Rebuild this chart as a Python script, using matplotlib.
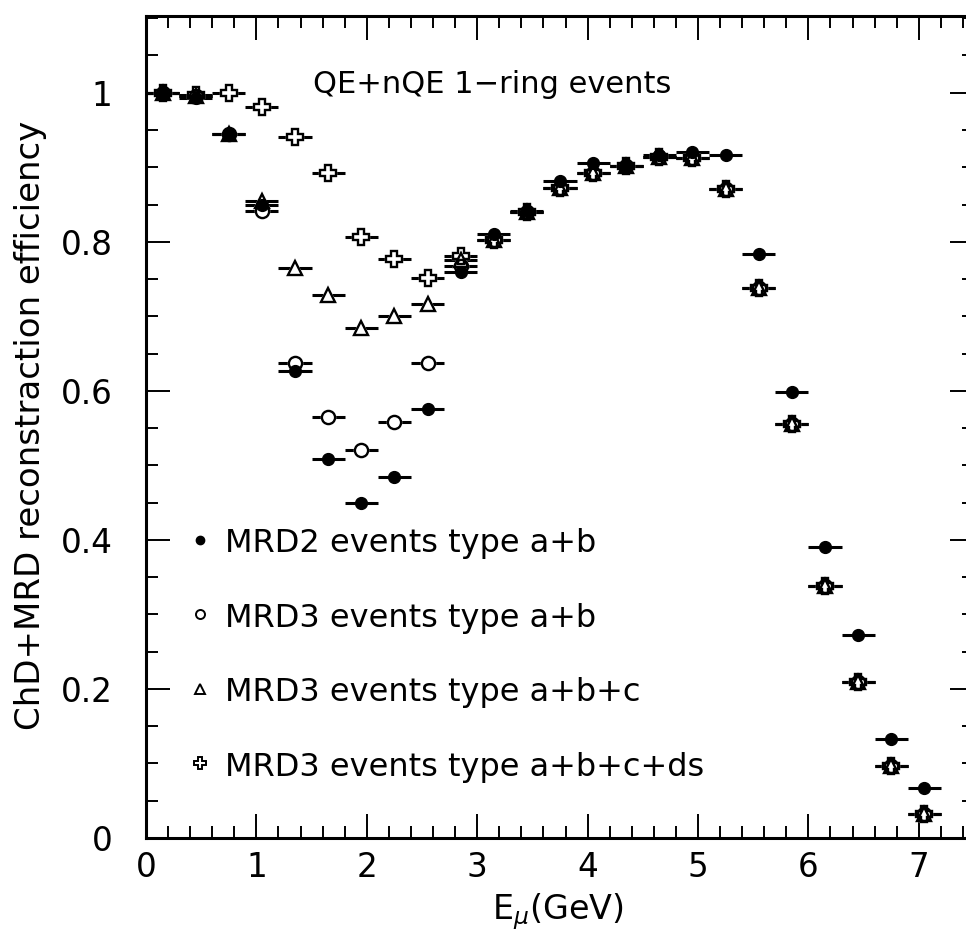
import matplotlib
matplotlib.use("Agg")
import matplotlib.pyplot as plt
from matplotlib.ticker import MultipleLocator, FixedLocator, FixedFormatter

plt.rcParams['font.family'] = ['DejaVu Sans']
plt.rcParams['mathtext.fontset'] = 'dejavusans'

# Muon energy bin centres (GeV), bins are 0.3 GeV wide
e_mu = [0.15, 0.45, 0.75, 1.05, 1.35, 1.65, 1.95, 2.25, 2.55, 2.85, 3.15, 3.45,
        3.75, 4.05, 4.35, 4.65, 4.95, 5.25, 5.55, 5.85, 6.15, 6.45, 6.75, 7.05]
half_bin = 0.15

eff_mrd2_ab = [1.000, 0.993, 0.945, 0.849, 0.626, 0.509, 0.449, 0.484, 0.575, 0.759,
               0.810, 0.842, 0.882, 0.906, 0.902, 0.916, 0.920, 0.916, 0.783, 0.599,
               0.390, 0.273, 0.133, 0.067]
eff_mrd3_ab = [1.000, 0.995, 0.945, 0.842, 0.637, 0.565, 0.520, 0.558, 0.638, 0.768,
               0.803, 0.840, 0.872, 0.893, 0.902, 0.914, 0.913, 0.871, 0.738, 0.555,
               0.338, 0.209, 0.097, 0.032]
eff_mrd3_abc = [1.000, 0.995, 0.945, 0.855, 0.765, 0.729, 0.685, 0.701, 0.716, 0.775,
                0.803, 0.840, 0.872, 0.893, 0.902, 0.914, 0.913, 0.871, 0.738, 0.555,
                0.338, 0.209, 0.097, 0.032]
eff_mrd3_abcds = [1.000, 0.997, 1.000, 0.981, 0.940, 0.893, 0.807, 0.777, 0.752, 0.781,
                  0.803, 0.840, 0.872, 0.893, 0.902, 0.914, 0.913, 0.871, 0.738, 0.555,
                  0.338, 0.209, 0.097, 0.032]

legend_labels = ["MRD2 events type a+b", "MRD3 events type a+b",
                 "MRD3 events type a+b+c", "MRD3 events type a+b+c+ds"]
legend_rows = [0.4, 0.3, 0.2, 0.1]

x_ticks = [0, 1, 2, 3, 4, 5, 6, 7]
y_ticks = [0, 0.2, 0.4, 0.6, 0.8, 1.0]
y_tick_labels = ["0", "0.2", "0.4", "0.6", "0.8", "1"]

W, H = 966, 938
fig = plt.figure(figsize=(W / 100, H / 100), dpi=100)
ax = fig.add_axes([146 / W, (H - 838) / H, 828 / W, 822 / H])

open_series = [
    (eff_mrd3_abcds, dict(marker='P', ms=11, mew=1.7)),
    (eff_mrd3_abc, dict(marker='^', ms=10, mew=1.7)),
    (eff_mrd3_ab, dict(marker='o', ms=9.5, mew=1.7)),
]

# horizontal bin-width bars underneath everything
for vals in [eff_mrd3_abcds, eff_mrd3_abc, eff_mrd3_ab, eff_mrd2_ab]:
    ax.errorbar(e_mu, vals, xerr=half_bin, fmt='none', ecolor='black',
                elinewidth=2.2, capsize=0, zorder=2)

# open markers: white interiors first, then all outlines on top
for vals, style in open_series:
    ax.plot(e_mu, vals, linestyle='none', mfc='white', mec='white', zorder=3, **style)
for vals, style in open_series:
    ax.plot(e_mu, vals, linestyle='none', mfc='none', mec='black', zorder=4, **style)

ax.plot(e_mu, eff_mrd2_ab, linestyle='none', marker='o', ms=8.5, mfc='black',
        mec='black', mew=1.0, zorder=5)

# Legend drawn inside the frame
legend_styles = [
    dict(marker='o', ms=6, mfc='black', mec='black', mew=1.0),
    dict(marker='o', ms=6.5, mfc='white', mec='black', mew=1.4),
    dict(marker='^', ms=7, mfc='white', mec='black', mew=1.4),
    dict(marker='P', ms=8, mfc='white', mec='black', mew=1.4),
]
for row, label, style in zip(legend_rows, legend_labels, legend_styles):
    ax.plot([0.49], [row], linestyle='none', color='black', zorder=3, **style)
    ax.text(0.715, row - 0.0165, label, fontsize=23, va='baseline', ha='left')

ax.text(1.51, 1.0, "QE+nQE 1\u2212ring events", fontsize=22, va='baseline', ha='left')

ax.set_xlim(0, 7.5)
ax.set_ylim(0, 1.103)

ax.xaxis.set_major_locator(FixedLocator(x_ticks))
ax.xaxis.set_minor_locator(MultipleLocator(0.2))
ax.yaxis.set_major_locator(FixedLocator(y_ticks))
ax.yaxis.set_major_formatter(FixedFormatter(y_tick_labels))
ax.yaxis.set_minor_locator(MultipleLocator(0.05))

ax.tick_params(which='both', direction='in', top=True, right=True, width=1.4)
ax.tick_params(which='major', length=17, labelsize=23.5)
ax.tick_params(axis='x', which='major', pad=9)
ax.tick_params(axis='y', which='major', pad=24)
ax.tick_params(which='minor', length=8.5)
for sp in ax.spines.values():
    sp.set_linewidth(2.2)

fig.text(31 / W, 1 - 425 / H, "ChD+MRD reconstraction efficiency", rotation=90,
         fontsize=24.5, ha='center', va='center')
fig.text(558 / W, 1 - 912 / H, r"E$_{\mu}$(GeV)", fontsize=24, ha='center', va='center')

fig.savefig("out.png", dpi=100, facecolor='white')
